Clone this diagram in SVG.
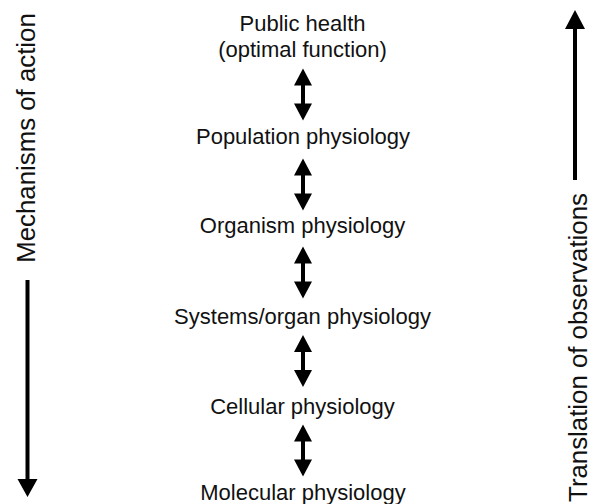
<svg xmlns="http://www.w3.org/2000/svg" xmlns:xlink="http://www.w3.org/1999/xlink" width="595" height="504" viewBox="0 0 595 504">
<style>
  .lbl { font-family: "Liberation Sans", Arial, Helvetica, sans-serif; font-size: 22px; fill: #111; text-anchor: middle; }
  .side { font-family: "Liberation Sans", Arial, Helvetica, sans-serif; font-size: 25.8px; fill: #111; text-anchor: middle; }
  .arr { fill: #000; }
</style>
<defs>
  <path id="dbl" class="arr" d="M0,-26 L9,-9 L2,-9 L2,9 L9,9 L0,26 L-9,9 L-2,9 L-2,-9 L-9,-9 Z"/>
</defs>
<rect width="595" height="504" fill="#fff"/>

<g id="side-left">
  <text class="side" transform="translate(35,138) rotate(-90)">Mechanisms of action</text>
  <path class="arr" d="M25.5,280 h4 v199 h8 l-10,18 l-10,-18 h8 z"/>
</g>
<g id="side-right">
  <text class="side" transform="translate(587,347.5) rotate(-90)">Translation of observations</text>
  <path class="arr" d="M575,10 l10,19 h-8 v151 h-4 v-151 h-8 z"/>
</g>

<g id="node-public-health">
  <text class="lbl" x="302.5" y="30.5">Public health</text>
  <text class="lbl" x="302.5" y="57">(optimal function)</text>
</g>
<g id="node-population">
  <text class="lbl" x="303" y="143.5">Population physiology</text>
</g>
<g id="node-organism">
  <text class="lbl" x="302.5" y="233">Organism physiology</text>
</g>
<g id="node-systems">
  <text class="lbl" x="302.5" y="324">Systems/organ physiology</text>
</g>
<g id="node-cellular">
  <text class="lbl" x="302.5" y="413.5">Cellular physiology</text>
</g>
<g id="node-molecular">
  <text class="lbl" x="303" y="500">Molecular physiology</text>
</g>

<g id="connectors">
  <use xlink:href="#dbl" href="#dbl" x="303" y="94.5"/>
  <use xlink:href="#dbl" href="#dbl" x="303" y="184.5"/>
  <use xlink:href="#dbl" href="#dbl" x="303" y="272.5"/>
  <use xlink:href="#dbl" href="#dbl" x="303" y="361"/>
  <use xlink:href="#dbl" href="#dbl" x="303" y="450.5"/>
</g>
</svg>
